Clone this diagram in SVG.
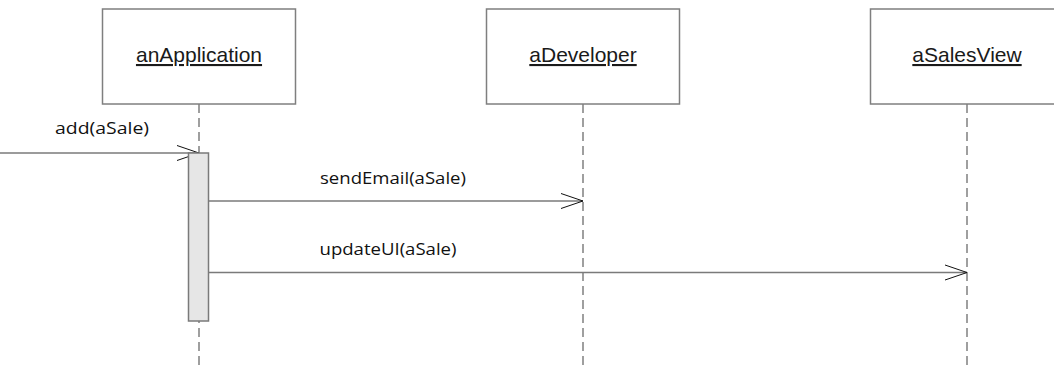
<svg xmlns="http://www.w3.org/2000/svg" width="1054" height="367" viewBox="0 0 1054 367">
  <style>
    .box { fill: #ffffff; stroke: #7f7f7f; stroke-width: 1.5; }
    .title { font-family: "Liberation Sans", Arial, sans-serif; font-size: 21px; fill: #1a1a1a; text-anchor: middle; text-decoration: underline; }
    .life { stroke: #808080; stroke-width: 1.5; stroke-dasharray: 9 5; fill: none; }
    .msg { stroke: #7a7a7a; stroke-width: 1.5; fill: none; }
    .head { stroke: #111111; stroke-width: 1; fill: none; }
    .label { font-family: "Open Sans", "Liberation Sans", sans-serif; font-size: 16px; fill: #111111; }
    .act { fill: #e6e6e6; stroke: #7a7a7a; stroke-width: 1.5; }
  </style>

  <!-- lifelines -->
  <g id="lifelines">
    <line class="life" x1="199" y1="104" x2="199" y2="367"/>
    <line class="life" x1="583" y1="104" x2="583" y2="367"/>
    <line class="life" x1="967" y1="104" x2="967" y2="367"/>
  </g>

  <g id="anApplication">
    <rect class="box" x="102.5" y="9" width="193" height="95"/>
    <text class="title" x="199" y="62">anApplication</text>
  </g>

  <g id="aDeveloper">
    <rect class="box" x="486.5" y="9" width="193" height="95"/>
    <text class="title" x="583" y="62">aDeveloper</text>
  </g>

  <g id="aSalesView">
    <rect class="box" x="870.5" y="9" width="193" height="95"/>
    <text class="title" x="967" y="62">aSalesView</text>
  </g>

  <!-- messages -->
  <g id="connectors">
    <line class="msg" x1="0" y1="153" x2="199" y2="153"/>
    <polyline class="head" points="177,145.5 199,153 177,160.5"/>
    <text class="label" x="55" y="133.5" textLength="94" lengthAdjust="spacingAndGlyphs">add(aSale)</text>

    <line class="msg" x1="209" y1="201" x2="583" y2="201"/>
    <polyline class="head" points="561,193.5 583,201 561,208.5"/>
    <text class="label" x="320" y="183.5" textLength="146" lengthAdjust="spacingAndGlyphs">sendEmail(aSale)</text>

    <line class="msg" x1="209" y1="272.5" x2="967" y2="272.5"/>
    <polyline class="head" points="945,265 967,272.5 945,280"/>
    <text class="label" x="319.5" y="254.5" textLength="137" lengthAdjust="spacingAndGlyphs">updateUI(aSale)</text>
  </g>

  <!-- activation bar on anApplication -->
  <g id="activation">
    <rect class="act" x="188.5" y="153" width="20" height="168"/>
  </g>
</svg>
